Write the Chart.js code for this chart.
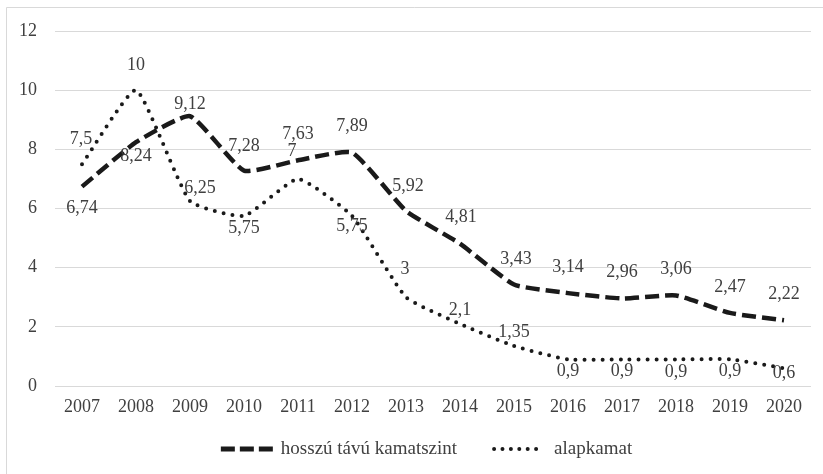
<!DOCTYPE html>
<html>
<head>
<meta charset="utf-8">
<script src="https://cdn.jsdelivr.net/npm/chart.js@4"></script>
<style>
  html, body { margin: 0; padding: 0; background: #fff; }
  #wrap { width: 823px; height: 474px; }
</style>
</head>
<body>
<div id="wrap"><canvas id="chart"></canvas></div>
<script>
const years = ['2007', '2008', '2009', '2010', '2011', '2012', '2013', '2014', '2015', '2016', '2017', '2018', '2019', '2020'];
const longTerm = [6.74, 8.24, 9.12, 7.28, 7.63, 7.89, 5.92, 4.81, 3.43, 3.14, 2.96, 3.06, 2.47, 2.22];
const baseRate = [7.5, 10, 6.25, 5.75, 7, 5.75, 3, 2.1, 1.35, 0.9, 0.9, 0.9, 0.9, 0.6];
const yTicks = [0, 2, 4, 6, 8, 10, 12];

// label offsets from the point (px), like the excel placement
const longTermLabelDy = [22, 14, -12, -24, -26, -26, -25, -26, -25, -26, -26, -26, -26, -26];
const longTermLabelDx = [0, 0, 0, 0, 0, 0, 2, 1, 2, 0, 0, 0, 0, 0];
const baseRateLabelDy = [-25, -25, -13, 12, -28, 10, -28, -14, -14, 12, 12, 13, 12, 5];
const baseRateLabelDx = [-1, 0, 10, 0, -6, 0, -1, 0, 0, 0, 0, 0, 0, 0];

const fontFamily = "'Liberation Serif', 'DejaVu Serif', serif";
const textColor = '#404040';
const lineColor = '#1a1a1a';

const frame = {
  id: 'frame',
  beforeDraw(chart) {
    const ctx = chart.ctx;
    ctx.save();
    ctx.fillStyle = '#fff';
    ctx.fillRect(0, 0, chart.width, chart.height);
    ctx.strokeStyle = '#d9d9d9';
    ctx.lineWidth = 1;
    ctx.beginPath();
    ctx.moveTo(6.5, chart.height);
    ctx.lineTo(6.5, 7.5);
    ctx.lineTo(chart.width, 7.5);
    ctx.stroke();
    ctx.restore();
  }
};

const valueLabels = {
  id: 'valueLabels',
  afterDatasetsDraw(chart) {
    const ctx = chart.ctx;
    ctx.save();
    ctx.font = '18px ' + fontFamily;
    ctx.fillStyle = textColor;
    ctx.textAlign = 'center';
    ctx.textBaseline = 'middle';
    chart.data.datasets.forEach((ds, i) => {
      const meta = chart.getDatasetMeta(i);
      meta.data.forEach((pt, j) => {
        const txt = String(ds.data[j]).replace('.', ',');
        ctx.fillText(txt, pt.x + ds.labelDx[j], pt.y + ds.labelDy[j]);
      });
    });
    ctx.restore();
  }
};

// excel-like legend under the axis: sample line, label, wide gap
const bottomLegend = {
  id: 'bottomLegend',
  afterDraw(chart) {
    const ctx = chart.ctx;
    const sampleW = 52, sampleGap = 8, itemGap = 32;
    const y = 449;
    ctx.save();
    ctx.font = '19px ' + fontFamily;
    const items = chart.data.datasets.map(ds => ({
      ds, w: sampleW + sampleGap + ctx.measureText(ds.label).width
    }));
    const total = items.reduce((s, it) => s + it.w, 0) + itemGap * (items.length - 1);
    let x = 424 - total / 2;
    items.forEach(it => {
      const ds = it.ds;
      ctx.strokeStyle = ds.borderColor;
      ctx.lineWidth = ds.legendWidth;
      ctx.lineCap = ds.borderCapStyle || 'butt';
      ctx.setLineDash(ds.legendDash);
      ctx.beginPath();
      ctx.moveTo(x + ds.legendInset, y);
      ctx.lineTo(x + sampleW - ds.legendInset + 0.1, y);
      ctx.stroke();
      ctx.setLineDash([]);
      ctx.fillStyle = textColor;
      ctx.textAlign = 'left';
      ctx.textBaseline = 'middle';
      ctx.fillText(ds.label, x + sampleW + sampleGap + ds.legendInset, y);
      x += it.w + itemGap;
    });
    ctx.restore();
  }
};

new Chart(document.getElementById('chart'), {
  type: 'line',
  data: {
    labels: years,
    datasets: [
      {
        label: 'hosszú távú kamatszint',
        data: longTerm,
        borderColor: lineColor,
        backgroundColor: lineColor,
        borderWidth: 4.5,
        borderDash: [14, 6],
        tension: 0.15,
        pointRadius: 0,
        labelDy: longTermLabelDy,
        labelDx: longTermLabelDx,
        legendDash: [14, 5],
        legendWidth: 5,
        legendInset: 0
      },
      {
        label: 'alapkamat',
        data: baseRate,
        borderColor: lineColor,
        backgroundColor: lineColor,
        borderWidth: 4,
        borderDash: [0, 9],
        borderCapStyle: 'round',
        tension: 0.15,
        pointRadius: 0,
        labelDy: baseRateLabelDy,
        labelDx: baseRateLabelDx,
        legendDash: [0, 8.4],
        legendWidth: 4,
        legendInset: 5
      }
    ]
  },
  options: {
    responsive: true,
    maintainAspectRatio: false,
    animation: false,
    layout: { padding: { top: 31, right: 12, left: 0, bottom: 50 } },
    plugins: {
      legend: { display: false },
      tooltip: { enabled: false }
    },
    scales: {
      x: {
        offset: true,
        afterFit(scale) { scale.height = 38; },
        grid: { display: false, drawTicks: false },
        border: { display: false },
        ticks: {
          color: textColor,
          padding: 10,
          maxRotation: 0,
          autoSkip: false,
          font: { family: fontFamily, size: 18 }
        }
      },
      y: {
        min: 0,
        max: 12,
        afterFit(scale) { scale.width = 55; },
        afterBuildTicks(scale) { scale.ticks = yTicks.map(v => ({ value: v })); },
        grid: { color: '#d9d9d9', lineWidth: 1, drawTicks: false },
        border: { display: false },
        ticks: {
          color: textColor,
          padding: 18,
          font: { family: fontFamily, size: 18 }
        }
      }
    }
  },
  plugins: [frame, valueLabels, bottomLegend]
});
</script>
</body>
</html>
